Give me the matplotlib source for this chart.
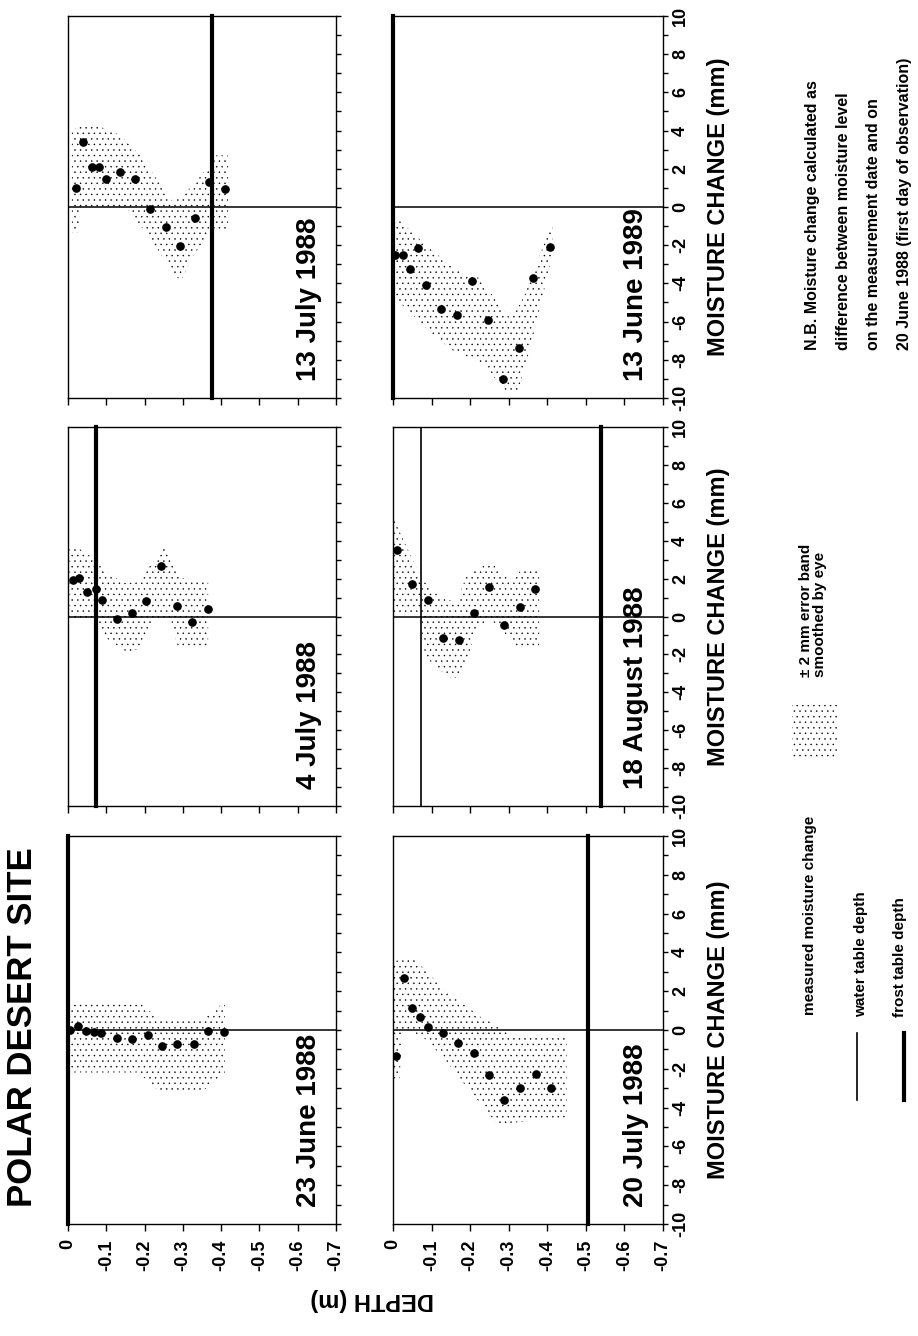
import numpy as np
import matplotlib
matplotlib.use("Agg")
import matplotlib.pyplot as plt
from matplotlib.patches import Rectangle
from matplotlib.lines import Line2D

plt.rcParams['font.family'] = ['Liberation Sans', 'DejaVu Sans']
plt.rcParams['font.weight'] = 'bold'
plt.rcParams['hatch.linewidth'] = 0.3

# ---------------- data ----------------
dates = ["23 June 1988", "4 July 1988", "13 July 1988",
         "20 July 1988", "18 August 1988", "13 June 1989"]

depth_ticks = [0, -0.1, -0.2, -0.3, -0.4, -0.5, -0.6, -0.7]
depth_ticklabels = ["0", "-0.1", "-0.2", "-0.3", "-0.4", "-0.5", "-0.6", "-0.7"]
moist_ticks = [-10, -8, -6, -4, -2, 0, 2, 4, 6, 8, 10]
moist_ticklabels = ["-10", "-8", "-6", "-4", "-2", "0", "2", "4", "6", "8", "10"]

# 23 June 1988
depth_23jun = [-0.005, -0.026, -0.048, -0.068, -0.087, -0.127, -0.168, -0.208, -0.246, -0.286, -0.329, -0.365, -0.408]
moist_23jun = [0.0, 0.2, -0.05, -0.12, -0.18, -0.4, -0.46, -0.26, -0.84, -0.74, -0.7, -0.05, -0.09]
band_d_23jun = [-0.004, -0.183, -0.244, -0.346, -0.41]
band_hi_23jun = [1.46, 1.46, 0.49, 0.49, 1.46]
band_lo_23jun = [-2.19, -2.19, -3.25, -3.25, -2.19]

# 4 July 1988
depth_04jul = [-0.012, -0.03, -0.049, -0.072, -0.089, -0.127, -0.168, -0.203, -0.243, -0.286, -0.324, -0.366]
moist_04jul = [1.9, 2.04, 1.29, 1.45, 0.85, -0.14, 0.18, 0.8, 2.64, 0.53, -0.27, 0.37]
band_d_04jul = [-0.004, -0.044, -0.07, -0.104, -0.148, -0.157, -0.183, -0.227, -0.249, -0.27, -0.288, -0.297, -0.366]
band_hi_04jul = [3.72, 3.46, 2.93, 2.3, 1.77, 1.77, 1.86, 3.0, 3.72, 2.9, 2.3, 2.04, 1.86]
band_lo_04jul = [-0.18, -0.18, -0.3, -1.2, -1.8, -1.95, -1.7, -0.1, -0.2, -0.27, -1.68, -1.68, -1.68]

# 13 July 1988
depth_13jul = [-0.021, -0.04, -0.062, -0.081, -0.099, -0.137, -0.176, -0.214, -0.255, -0.293, -0.333, -0.367, -0.409]
moist_13jul = [0.97, 3.42, 2.1, 2.07, 1.45, 1.84, 1.45, -0.09, -1.03, -2.04, -0.55, 1.33, 0.94]
band_d_13jul = [-0.01, -0.027, -0.032, -0.06, -0.10, -0.123, -0.15, -0.194, -0.23, -0.273, -0.295, -0.326, -0.37, -0.383, -0.418]
band_hi_13jul = [4.0, 4.2, 4.25, 4.3, 4.1, 3.9, 3.5, 2.6, 1.5, 0.3, 0.5, 1.15, 2.2, 2.7, 2.7]
band_lo_13jul = [-1.33, -1.33, -0.05, 0.0, 0.0, 0.0, 0.0, -1.1, -2.1, -3.4, -3.9, -2.6, -1.3, -1.15, -1.15]

# 20 July 1988
depth_20jul = [-0.009, -0.028, -0.05, -0.071, -0.091, -0.13, -0.169, -0.209, -0.249, -0.289, -0.329, -0.37, -0.41]
moist_20jul = [-1.33, 2.69, 1.12, 0.65, 0.16, -0.14, -0.67, -1.2, -2.34, -3.59, -2.97, -2.25, -2.97]
band_d_20jul = [0.0, -0.017, -0.024, -0.052, -0.086, -0.138, -0.173, -0.225, -0.268, -0.277, -0.30, -0.45]
band_hi_20jul = [3.55, 3.6, 3.6, 3.7, 3.05, 1.95, 1.5, 0.7, 0.25, 0.1, -0.2, -0.25]
band_lo_20jul = [-2.5, -2.5, -0.1, -0.1, -0.5, -1.6, -2.5, -3.76, -4.8, -4.8, -4.8, -4.5]

# 18 August 1988
depth_18aug = [-0.01, -0.048, -0.091, -0.129, -0.170, -0.21, -0.249, -0.289, -0.33, -0.369]
moist_18aug = [3.51, 1.74, 0.86, -1.16, -1.22, 0.21, 1.56, -0.45, 0.5, 1.43]
band_d_18aug = [-0.003, -0.072, -0.075, -0.083, -0.119, -0.155, -0.164, -0.186, -0.191, -0.218, -0.254, -0.289, -0.307, -0.316, -0.334, -0.379]
band_hi_18aug = [5.1, 2.06, 2.0, 1.8, 1.07, 0.8, 0.72, 1.9, 2.15, 2.5, 2.86, 2.2, 1.97, 2.1, 2.5, 2.5]
band_lo_18aug = [0.2, 0.2, -0.8, -2.1, -2.8, -3.29, -3.2, -2.67, -2.4, -0.52, -0.16, -0.88, -1.25, -1.6, -1.6, -1.6]

# 13 June 1989
depth_13jun = [-0.005, -0.025, -0.045, -0.066, -0.086, -0.125, -0.165, -0.205, -0.245, -0.285, -0.327, -0.363, -0.407]
moist_13jun = [-2.53, -2.53, -3.23, -2.15, -4.07, -5.32, -5.67, -3.89, -5.93, -9.02, -7.38, -3.72, -2.09]
band_d_13jun = [-0.007, -0.012, -0.097, -0.106, -0.16, -0.188, -0.224, -0.242, -0.287, -0.305, -0.323, -0.341, -0.368, -0.413]
band_hi_13jun = [-0.5, -0.61, -2.2, -2.35, -3.2, -3.63, -3.7, -4.2, -5.4, -5.85, -5.3, -4.62, -3.2, -0.79]
band_lo_13jun = [-4.8, -4.9, -6.55, -6.72, -7.59, -7.8, -8.1, -8.3, -9.65, -9.65, -9.65, -8.5, -6.37, -2.53]

# frost table / water table depths (m); nan = not shown
frost_depth = [0.0, -0.072, -0.375, -0.506, -0.538, 0.0]
water_depth = [np.nan, np.nan, np.nan, np.nan, -0.072, np.nan]

depths = [depth_23jun, depth_04jul, depth_13jul, depth_20jul, depth_18aug, depth_13jun]
moists = [moist_23jun, moist_04jul, moist_13jul, moist_20jul, moist_18aug, moist_13jun]
band_ds = [band_d_23jun, band_d_04jul, band_d_13jul, band_d_20jul, band_d_18aug, band_d_13jun]
band_his = [band_hi_23jun, band_hi_04jul, band_hi_13jul, band_hi_20jul, band_hi_18aug, band_hi_13jun]
band_los = [band_lo_23jun, band_lo_04jul, band_lo_13jul, band_lo_20jul, band_lo_18aug, band_lo_13jun]

# ---------------- layout (pixels of the 918 x 1336 page) ----------------
W, H = 918, 1336
fig = plt.figure(figsize=(W / 100, H / 100), dpi=100)

col_x = [(68, 336), (393, 663)]              # left col, right col
row_y = [(836, 1224), (427, 806), (16, 398)]  # bottom, middle, top rows
# panel i -> (col, row)
grid = [(0, 0), (0, 1), (0, 2), (1, 0), (1, 1), (1, 2)]

def px_rect(x0, x1, y0, y1):
    return [x0 / W, 1 - y1 / H, (x1 - x0) / W, (y1 - y0) / H]

STIPPLE = '...'

for i in range(6):
    c, r = grid[i]
    x0, x1 = col_x[c]
    y0, y1 = row_y[r]
    ax = fig.add_axes(px_rect(x0, x1, y0, y1))
    ax.set_xlim(0, -0.7)
    ax.set_ylim(-10, 10)
    for s in ax.spines.values():
        s.set_linewidth(1.0)

    # error band (stippled)
    ax.fill_between(band_ds[i], band_los[i], band_his[i], facecolor='none',
                    edgecolor='black', hatch=STIPPLE, linewidth=0, zorder=1)
    # zero line
    ax.axhline(0, color='black', lw=1.1, zorder=2)
    # water table / frost table
    if not np.isnan(water_depth[i]):
        ax.axvline(water_depth[i], color='black', lw=1.2, zorder=3)
    ax.axvline(frost_depth[i], color='black', lw=3.0, zorder=3, clip_on=False)
    # measured points
    ax.plot(depths[i], moists[i], 'o', color='black', ms=5.2, zorder=4)

    # ticks
    ax.xaxis.tick_bottom()
    ax.yaxis.tick_right()
    ax.set_xticks(depth_ticks)
    ax.set_yticks(moist_ticks)
    ax.set_yticks(np.arange(-10, 11, 1), minor=True)
    ax.tick_params(axis='x', direction='out', length=5, width=1.0, pad=6)
    ax.tick_params(axis='y', which='both', direction='out', length=3.5, width=1.0, pad=3)
    if r == 0:
        ax.set_xticklabels(depth_ticklabels, rotation=90, fontsize=13, fontweight='bold')
    else:
        ax.set_xticklabels([])
    if c == 1:
        ax.set_yticklabels(moist_ticklabels, rotation=90, fontsize=13, fontweight='bold')
        for lab in ax.get_yticklabels():
            lab.set_va('center')
        ax.text(1.205, 0.5, "MOISTURE CHANGE (mm)", rotation=90, ha='center', va='center',
                fontsize=17, fontweight='bold', transform=ax.transAxes)
    else:
        ax.set_yticklabels([])

    ax.text(0.9, 0.045, dates[i], rotation=90, ha='center', va='bottom',
            fontsize=20, fontweight='bold', transform=ax.transAxes, zorder=5)

# title and depth label
fig.text(23 / W, 1 - 1207 / H, "POLAR DESERT SITE", rotation=90, ha='center', va='bottom',
         fontsize=25, fontweight='bold')
fig.text(372 / W, 1 - 1300 / H, "DEPTH (m)", rotation=180, ha='center', va='center',
         fontsize=17, fontweight='bold')

# ---------------- legend (drawn rotated, page pixel coordinates) ----------------
lg = fig.add_axes([0, 0, 1, 1])
lg.set_xlim(0, W)
lg.set_ylim(H, 0)
lg.axis('off')
lg.patch.set_visible(False)

lg.add_patch(Rectangle((792, 705), 46, 52, facecolor='none', edgecolor='black',
                       hatch=STIPPLE, linewidth=0))
lg.add_line(Line2D([857, 857], [1033, 1100], color='black', lw=1.2))
lg.add_line(Line2D([904, 904], [1033, 1100], color='black', lw=3.0))

leg_fs = 11
lg.text(810, 1015, "measured moisture change", rotation=90, ha='center', va='bottom', fontsize=leg_fs)
lg.text(861, 1017, "water table depth", rotation=90, ha='center', va='bottom', fontsize=leg_fs)
lg.text(900, 1017, "frost table depth", rotation=90, ha='center', va='bottom', fontsize=leg_fs)
lg.text(806, 677, "\u00b1 2 mm error band", rotation=90, ha='center', va='bottom', fontsize=leg_fs)
lg.text(820, 677, "smoothed by eye", rotation=90, ha='center', va='bottom', fontsize=leg_fs)

nb_lines = ["N.B. Moisture change calculated as",
            "difference between moisture level",
            "on the measurement date and on",
            "20 June 1988 (first day of observation)"]
for k, t in enumerate(nb_lines):
    lg.text(813 + 30.5 * k, 350, t, rotation=90, ha='center', va='bottom', fontsize=11.5)

fig.savefig("out.png", dpi=100)
